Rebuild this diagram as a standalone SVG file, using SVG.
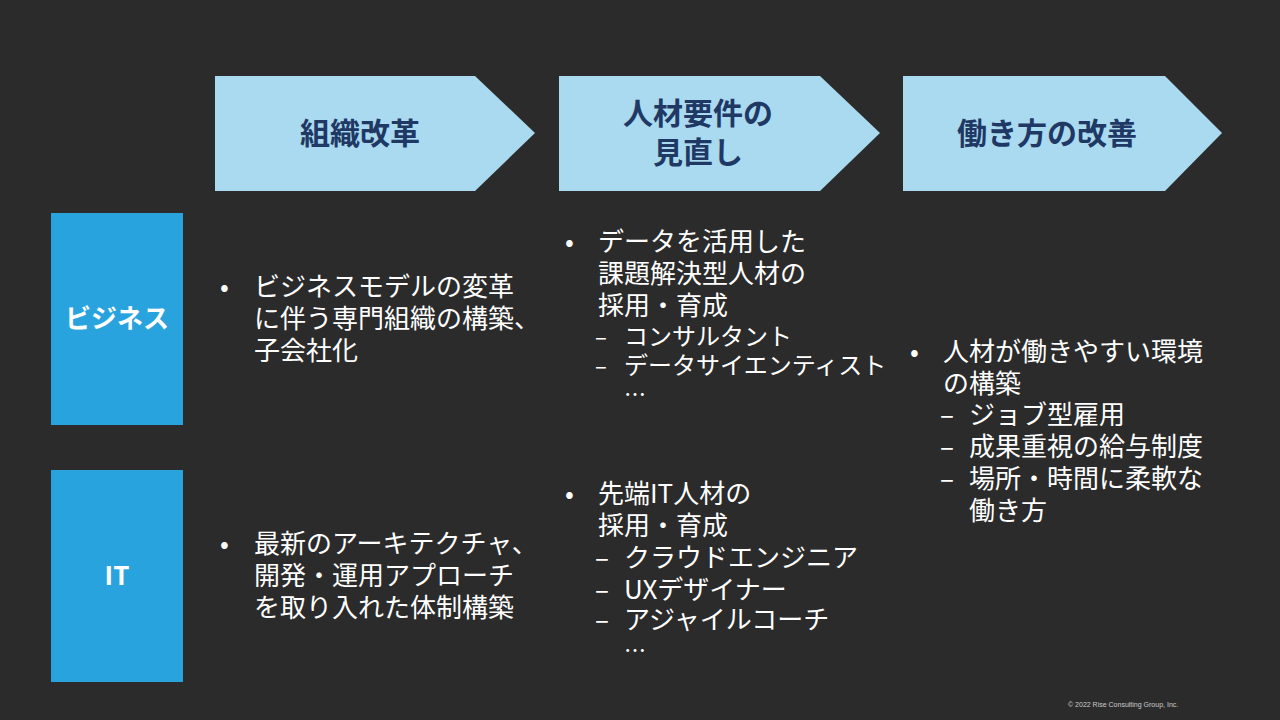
<svg xmlns="http://www.w3.org/2000/svg" width="1280" height="720" viewBox="0 0 1280 720">
<style>
.chev{fill:#a9daf0}
.ct{font-family:"Noto Sans CJK JP","Noto Sans",sans-serif;font-size:30px;font-weight:bold;fill:#1f3864;text-anchor:middle}
.box{fill:#29a3dd}
.bt{font-family:"Noto Sans CJK JP","Noto Sans",sans-serif;font-size:26px;font-weight:bold;fill:#fff;text-anchor:middle}
.t{font-family:"Noto Sans CJK JP","Noto Sans",sans-serif;font-size:26px;fill:#fff}
</style>
<rect width="1280" height="720" fill="#2b2b2b"/>
<g id="h1"><polygon class="chev" points="215,76 475,76 535,133 475,191 215,191"/><text class="ct" x="360" y="144">組織改革</text></g>
<g id="h2"><polygon class="chev" points="559,76 820,76 880,133 820,191 559,191"/><text class="ct" x="698" y="124">人材要件の</text><text class="ct" x="698" y="163">見直し</text></g>
<g id="h3"><polygon class="chev" points="903,76 1165,76 1222,133 1165,191 903,191"/><text class="ct" x="1047" y="144">働き方の改善</text></g>
<g id="biz"><rect class="box" x="51" y="213" width="132" height="212"/><text class="bt" x="117" y="328">ビジネス</text></g>
<g id="it"><rect class="box" x="51" y="470" width="132" height="212"/><text class="bt" x="117" y="585">IT</text></g>
<g id="c1" class="t">
<text x="220" y="296">•</text><text x="254" y="296">ビジネスモデルの変革</text>
<text x="254" y="328">に伴う専門組織の構築、</text><text x="254" y="360">子会社化</text>
</g>
<g id="c2" class="t">
<text x="565" y="251">•</text><text x="598" y="251">データを活用した</text>
<text x="598" y="283">課題解決型人材の</text><text x="598" y="315">採用・育成</text>
<text x="595" y="345" font-size="22">–</text><text x="624" y="345" font-size="24">コンサルタント</text>
<text x="595" y="374" font-size="22">–</text><text x="624" y="374" font-size="24">データサイエンティスト</text>
<text x="624" y="402" font-size="22">…</text>
</g>
<g id="c3" class="t">
<text x="910" y="361">•</text><text x="943" y="361">人材が働きやすい環境</text>
<text x="943" y="393">の構築</text>
<text x="940" y="424">–</text><text x="969" y="424">ジョブ型雇用</text>
<text x="940" y="456">–</text><text x="969" y="456">成果重視の給与制度</text>
<text x="940" y="488">–</text><text x="969" y="488">場所・時間に柔軟な</text>
<text x="969" y="520">働き方</text>
</g>
<g id="c4" class="t">
<text x="220" y="553">•</text><text x="254" y="553">最新のアーキテクチャ、</text>
<text x="254" y="585">開発・運用アプローチ</text><text x="254" y="617">を取り入れた体制構築</text>
</g>
<g id="c5" class="t">
<text x="565" y="503">•</text><text x="598" y="503">先端IT人材の</text>
<text x="598" y="535">採用・育成</text>
<text x="595" y="567">–</text><text x="624" y="567">クラウドエンジニア</text>
<text x="595" y="599">–</text><text x="624" y="599">UXデザイナー</text>
<text x="595" y="629">–</text><text x="624" y="629">アジャイルコーチ</text>
<text x="624" y="658" font-size="22">…</text>
</g>
<g id="connectors"></g>
<text x="1068" y="707" font-family="Liberation Sans,sans-serif" font-size="7" fill="#ccc">© 2022  Rise Consulting Group, Inc.</text>
</svg>
